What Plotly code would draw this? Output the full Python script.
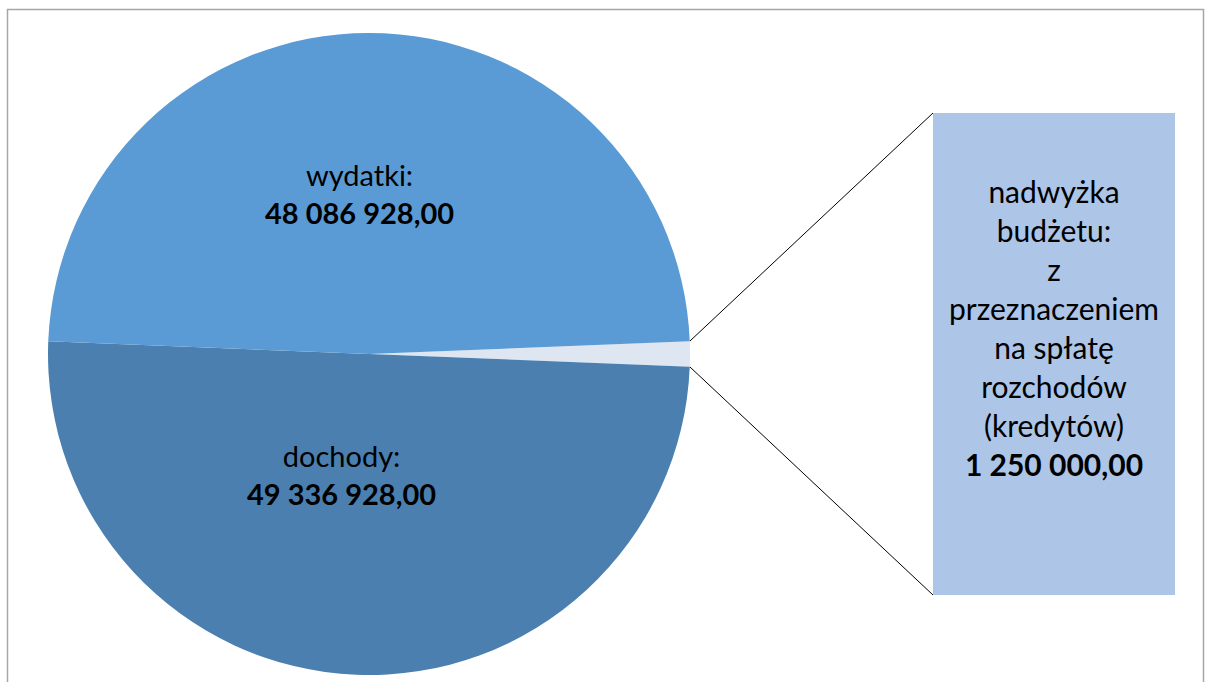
import math
import plotly.graph_objects as go

# data
pie_labels = ["nadwyżka budżetu", "dochody", "wydatki"]
pie_values = [1250000.00, 49336928.00, 48086928.00]
pie_colors = ["#DEE6F2", "#4A7FB0", "#5B9BD5"]

label_dochody = ["dochody:", "49 336 928,00"]
label_wydatki = ["wydatki:", "48 086 928,00"]
bar_lines = ["nadwyżka", "budżetu:", "z", "przeznaczeniem", "na spłatę",
             "rozchodów", "(kredytów)"]
bar_value_text = "1 250 000,00"
bar_value = pie_values[0]
bar_color = "#ADC5E6"

W, H = 1206, 682
FONT = "Lato, 'Open Sans', sans-serif"

# layout positions (pixels)
pie_dom_x = [48 / W, 690 / W]
pie_dom_y = [1 - 675 / H, 1 - 33 / H]
bar_dom_x = [933 / W, 1175 / W]
bar_dom_y = [1 - 595 / H, 1 - 113 / H]

total = sum(pie_values)
small_deg = 360 * pie_values[0] / total
rotation = 90 - small_deg / 2

fig = go.Figure()

fig.add_trace(go.Pie(
    labels=pie_labels,
    values=pie_values,
    marker=dict(colors=pie_colors, line=dict(width=0)),
    sort=False,
    direction="clockwise",
    rotation=rotation,
    textinfo="none",
    hoverinfo="label+value",
    domain=dict(x=pie_dom_x, y=pie_dom_y),
    showlegend=False,
))

fig.add_trace(go.Bar(
    x=[0],
    y=[bar_value],
    width=[1],
    marker=dict(color=bar_color, line=dict(width=0)),
    xaxis="x2",
    yaxis="y2",
    showlegend=False,
    hoverinfo="y",
))

# connector lines from the small slice to the bar corners
cx = (pie_dom_x[0] + pie_dom_x[1]) / 2 * W
cy = (1 - (pie_dom_y[0] + pie_dom_y[1]) / 2) * H
r = min((pie_dom_x[1] - pie_dom_x[0]) * W, (pie_dom_y[1] - pie_dom_y[0]) * H) / 2
a0 = math.radians(rotation)
a1 = math.radians(rotation + small_deg)
p0 = (cx + r * math.sin(a0), cy - r * math.cos(a0))
p1 = (cx + r * math.sin(a1), cy - r * math.cos(a1))
bx = bar_dom_x[0] * W
by_top = (1 - bar_dom_y[1]) * H
by_bot = (1 - bar_dom_y[0]) * H

fig.add_trace(go.Scatter(
    x=[p0[0], bx, None, p1[0], bx],
    y=[p0[1], by_top, None, p1[1], by_bot],
    mode="lines",
    line=dict(color="#000000", width=1),
    xaxis="x3",
    yaxis="y3",
    hoverinfo="skip",
    showlegend=False,
))

def two_lines(lines):
    return lines[0] + "<br><b>" + lines[1] + "</b>"

annotations = [
    dict(text=two_lines(label_wydatki), x=360 / W, y=1 - 194 / H,
         xref="paper", yref="paper", xanchor="center", yanchor="middle",
         showarrow=False, font=dict(family=FONT, size=29, color="#000000")),
    dict(text=two_lines(label_dochody), x=341 / W, y=1 - 474 / H,
         xref="paper", yref="paper", xanchor="center", yanchor="middle",
         showarrow=False, font=dict(family=FONT, size=29, color="#000000")),
    dict(text="<br>".join(bar_lines) + "<br><b>" + bar_value_text + "</b>",
         x=0, y=1 - 327 / H, xref="x2", yref="paper", xanchor="center",
         yanchor="middle", showarrow=False,
         font=dict(family=FONT, size=30, color="#000000")),
]

fig.update_layout(
    width=W,
    height=H,
    margin=dict(l=0, r=0, t=0, b=0),
    paper_bgcolor="#FFFFFF",
    plot_bgcolor="rgba(0,0,0,0)",
    font=dict(family=FONT),
    annotations=annotations,
    xaxis2=dict(domain=bar_dom_x, range=[-0.5, 0.5], visible=False,
                fixedrange=True, anchor="y2"),
    yaxis2=dict(domain=bar_dom_y, range=[0, bar_value], visible=False,
                fixedrange=True, anchor="x2"),
    xaxis3=dict(domain=[0, 1], range=[0, W], visible=False, anchor="y3"),
    yaxis3=dict(domain=[0, 1], range=[H, 0], visible=False, anchor="x3"),
    shapes=[dict(type="rect", xref="paper", yref="paper",
                 x0=7.5 / W, x1=1203.5 / W, y0=-0.05, y1=1 - 9.5 / H,
                 line=dict(color="#A6A6A6", width=1.5), fillcolor="rgba(0,0,0,0)",
                 layer="below")],
)

# page body has a default 8px margin; drop it so the figure sits at (0, 0)
fig.write_html("out.html", config={"displayModeBar": False},
               post_script="document.body.style.margin='0';")
